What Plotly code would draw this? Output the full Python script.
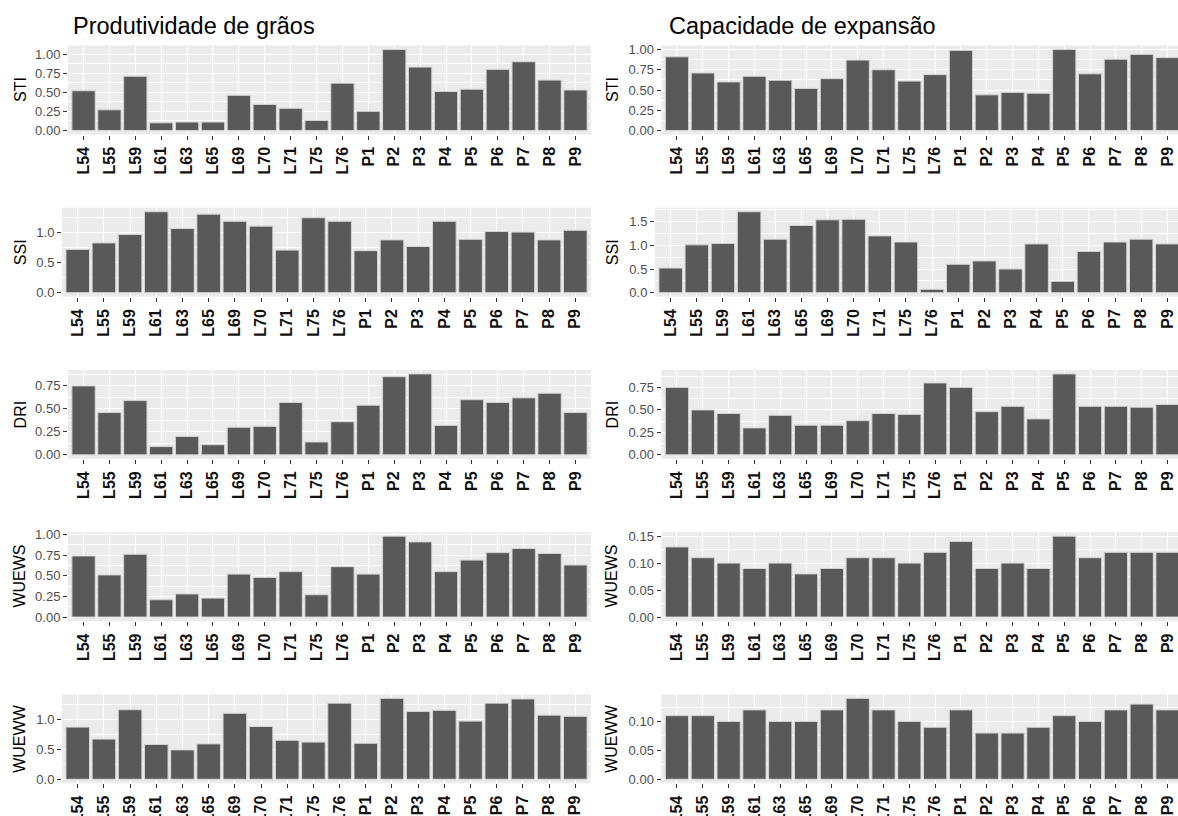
import plotly.graph_objects as go

# ---------------- data ----------------
categories = ["L54", "L55", "L59", "L61", "L63", "L65", "L69", "L70", "L71", "L75",
              "L76", "P1", "P2", "P3", "P4", "P5", "P6", "P7", "P8", "P9"]

# Produtividade de grãos
prod_sti = [0.52, 0.27, 0.71, 0.10, 0.11, 0.11, 0.46, 0.34, 0.29, 0.13,
            0.62, 0.25, 1.06, 0.83, 0.51, 0.54, 0.80, 0.90, 0.66, 0.53]
prod_ssi = [0.72, 0.83, 0.97, 1.35, 1.07, 1.31, 1.19, 1.11, 0.71, 1.25,
            1.19, 0.70, 0.88, 0.77, 1.19, 0.89, 1.02, 1.01, 0.88, 1.04]
prod_dri = [0.75, 0.46, 0.59, 0.09, 0.20, 0.11, 0.30, 0.31, 0.57, 0.14,
            0.36, 0.54, 0.85, 0.88, 0.32, 0.60, 0.57, 0.62, 0.67, 0.46]
prod_wuews = [0.74, 0.51, 0.76, 0.21, 0.28, 0.23, 0.52, 0.48, 0.55, 0.27,
              0.61, 0.52, 0.98, 0.91, 0.55, 0.69, 0.78, 0.83, 0.77, 0.63]
prod_wueww = [0.87, 0.67, 1.16, 0.58, 0.49, 0.59, 1.10, 0.88, 0.65, 0.62,
              1.27, 0.60, 1.35, 1.13, 1.15, 0.97, 1.27, 1.34, 1.07, 1.05]

# Capacidade de expansão
exp_sti = [0.91, 0.71, 0.60, 0.67, 0.62, 0.52, 0.64, 0.87, 0.75, 0.61,
           0.69, 0.99, 0.44, 0.47, 0.46, 1.00, 0.70, 0.88, 0.94, 0.90]
exp_ssi = [0.52, 1.01, 1.04, 1.71, 1.13, 1.42, 1.54, 1.55, 1.20, 1.07,
           0.07, 0.60, 0.67, 0.50, 1.03, 0.24, 0.87, 1.07, 1.13, 1.03]
exp_dri = [0.75, 0.50, 0.46, 0.30, 0.44, 0.33, 0.33, 0.38, 0.46, 0.45,
           0.80, 0.75, 0.48, 0.54, 0.40, 0.90, 0.54, 0.54, 0.53, 0.56]
exp_wuews = [0.13, 0.11, 0.10, 0.09, 0.10, 0.08, 0.09, 0.11, 0.11, 0.10,
             0.12, 0.14, 0.09, 0.10, 0.09, 0.15, 0.11, 0.12, 0.12, 0.12]
exp_wueww = [0.11, 0.11, 0.10, 0.12, 0.10, 0.10, 0.12, 0.14, 0.12, 0.10,
             0.09, 0.12, 0.08, 0.08, 0.09, 0.11, 0.10, 0.12, 0.13, 0.12]

column_titles = ["Produtividade de grãos", "Capacidade de expansão"]

# (column, row, y title, values, major dtick, tick format, narrow labels)
panels = [
    (0, 0, "STI", prod_sti, 0.25, ".2f", False),
    (0, 1, "SSI", prod_ssi, 0.5, ".1f", True),
    (0, 2, "DRI", prod_dri, 0.25, ".2f", False),
    (0, 3, "WUEWS", prod_wuews, 0.25, ".2f", False),
    (0, 4, "WUEWW", prod_wueww, 0.5, ".1f", True),
    (1, 0, "STI", exp_sti, 0.25, ".2f", False),
    (1, 1, "SSI", exp_ssi, 0.5, ".1f", True),
    (1, 2, "DRI", exp_dri, 0.25, ".2f", False),
    (1, 3, "WUEWS", exp_wuews, 0.05, ".2f", False),
    (1, 4, "WUEWW", exp_wueww, 0.05, ".2f", False),
]

# ---------------- layout geometry ----------------
W, H = 1178, 816
ROW_STEP = 162.2
PANEL_TOP0 = 45.5
PANEL_H = 89
FONT = "Arial, Liberation Sans, sans-serif"

fig = go.Figure()
annotations = []
layout_axes = {}

for i, (col, row, ytitle, vals, dtick, fmt, narrow) in enumerate(panels):
    n = i + 1
    xname = "x" if n == 1 else f"x{n}"
    yname = "y" if n == 1 else f"y{n}"
    fig.add_trace(go.Bar(
        x=categories, y=vals, xaxis=xname, yaxis=yname,
        width=0.9,
        marker=dict(color="#595959", line=dict(color="#d4d4d4", width=1)),
        showlegend=False, hoverinfo="x+y",
    ))
    top = PANEL_TOP0 + row * ROW_STEP
    bot = top + PANEL_H
    if col == 0:
        left = 62 if narrow else 68
        right = 591
        xr = [-0.6, 19.6]
        ytx = 20
    else:
        left = 655 if narrow else 661.5
        right_full = 1183
        right = W
        unit = (right_full - left) / 20.2
        xr = [-0.6, 19.6 - (right_full - W) / unit]
        ytx = 612
    vmax = max(vals)
    yr = [-0.05 * vmax, 1.05 * vmax]

    layout_axes["xaxis" if n == 1 else f"xaxis{n}"] = dict(
        domain=[left / W, right / W], anchor=yname,
        type="category", range=xr, automargin=False,
        showgrid=True, gridcolor="white", gridwidth=1.1,
        ticks="outside", ticklen=4, tickwidth=1, tickcolor="#333333",
        tickangle=-90, ticklabelstandoff=1,
        tickfont=dict(family=FONT, size=16, color="#111111", weight="bold"),
        showline=False, zeroline=False, fixedrange=True,
    )
    layout_axes["yaxis" if n == 1 else f"yaxis{n}"] = dict(
        domain=[1 - bot / H, 1 - top / H], anchor=xname,
        range=yr, tick0=0, dtick=dtick, tickformat=fmt, automargin=False,
        showgrid=True, gridcolor="white", gridwidth=1.1,
        minor=dict(dtick=dtick / 2, tick0=0, showgrid=True,
                   gridcolor="white", gridwidth=0.55, ticks=""),
        ticks="outside", ticklen=4, tickwidth=1, tickcolor="#333333",
        tickfont=dict(family=FONT, size=13, color="#4d4d4d"),
        showline=False, zeroline=False, fixedrange=True,
    )
    annotations.append(dict(
        text=ytitle, xref="paper", yref="paper",
        x=ytx / W, y=1 - ((top + bot) / 2) / H,
        xanchor="center", yanchor="middle", textangle=-90, showarrow=False,
        font=dict(family=FONT, size=16, color="black"),
    ))

annotations.append(dict(text=column_titles[0], xref="paper", yref="paper",
                        x=71 / W, y=1 - 26 / H, xanchor="left", yanchor="middle",
                        showarrow=False, font=dict(family=FONT, size=23.5, color="black")))
annotations.append(dict(text=column_titles[1], xref="paper", yref="paper",
                        x=667 / W, y=1 - 26 / H, xanchor="left", yanchor="middle",
                        showarrow=False, font=dict(family=FONT, size=23.5, color="black")))

fig.update_layout(
    width=W, height=H,
    margin=dict(l=0, r=0, t=0, b=0),
    paper_bgcolor="white", plot_bgcolor="#ebebeb",
    bargap=0.1,
    annotations=annotations,
    **layout_axes,
)

fig.write_html(
    "out.html",
    config={"displayModeBar": False, "staticPlot": False},
    post_script="document.body.style.margin='0';document.body.style.overflow='hidden';",
)
